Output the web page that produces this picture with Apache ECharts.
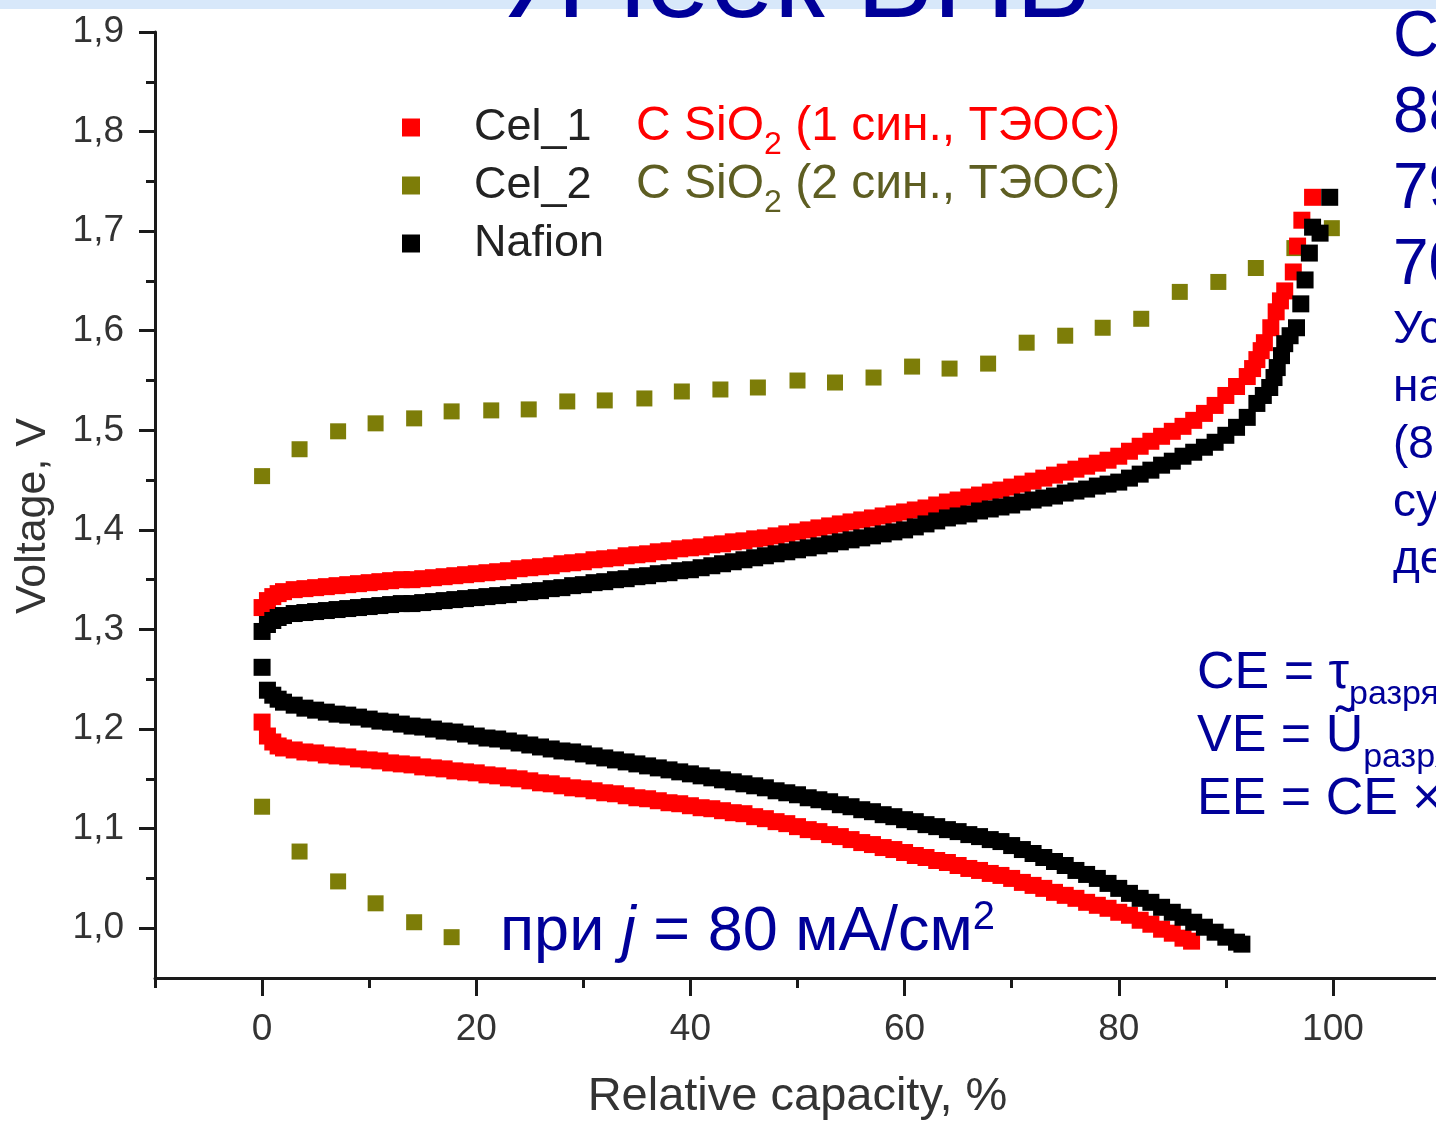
<!DOCTYPE html>
<html>
<head>
<meta charset="utf-8">
<script src="https://cdn.jsdelivr.net/npm/echarts@6/dist/echarts.min.js"></script>
<style>
html,body{margin:0;padding:0;background:#fff;}
#chart{width:1436px;height:1121px;}
</style>
</head>
<body>
<div id="chart"></div>
<script>
// ---------- DATA ----------
const xMajorTicks = [0, 20, 40, 60, 80, 100];
const xMinorTicks = [-10, 10, 30, 50, 70, 90, 110];
const yMajorTicks = [1.0, 1.1, 1.2, 1.3, 1.4, 1.5, 1.6, 1.7, 1.8, 1.9];
const yMinorTicks = [1.05, 1.15, 1.25, 1.35, 1.45, 1.55, 1.65, 1.75, 1.85];
const legendNames = ['Cel_1', 'Cel_2', 'Nafion'];

// Cel_1 (red) — charge branch
const cel1Charge = [[0,1.322],[0.5,1.329],[1,1.333],[1.5,1.336],[2,1.338],[3,1.340],[4,1.341],[5,1.342],[6,1.343],[7,1.344],[8,1.345],[9,1.346],[10,1.347],[11,1.348],[12,1.349],[13,1.350],[14,1.350],[15,1.351],[16,1.352],[17,1.353],[18,1.354],[19,1.355],[20,1.356],[21,1.357],[22,1.358],[23,1.359],[24,1.361],[25,1.362],[26,1.363],[27,1.364],[28,1.366],[29,1.367],[30,1.368],[31,1.370],[32,1.371],[33,1.372],[34,1.374],[35,1.375],[36,1.376],[37,1.378],[38,1.379],[39,1.381],[40,1.382],[41,1.383],[42,1.385],[43,1.386],[44,1.388],[45,1.389],[46,1.391],[47,1.392],[48,1.394],[49,1.396],[50,1.398],[51,1.400],[52,1.402],[53,1.404],[54,1.406],[55,1.408],[56,1.410],[57,1.412],[58,1.414],[59,1.416],[60,1.418],[61,1.420],[62,1.422],[63,1.425],[64,1.428],[65,1.430],[66,1.433],[67,1.435],[68,1.438],[69,1.440],[70,1.443],[71,1.446],[72,1.449],[73,1.452],[74,1.455],[75,1.458],[76,1.461],[77,1.464],[78,1.467],[79,1.470],[80,1.474],[81,1.479],[82,1.484],[83,1.489],[84,1.494],[85,1.499],[86,1.504],[87,1.510],[88,1.517],[89,1.525],[90,1.535],[91,1.544],[92,1.554],[92.5,1.562],[92.9,1.571],[93.3,1.580],[93.6,1.588],[94.2,1.603],[94.7,1.619],[95.1,1.630],[95.5,1.640],[96.3,1.659],[96.7,1.685],[97.1,1.711],[98.1,1.734]];
// Cel_1 (red) — discharge branch
const cel1Discharge = [[0,1.207],[0.5,1.193],[1,1.187],[1.5,1.183],[2,1.181],[3,1.179],[4,1.177],[5,1.176],[6,1.174],[7,1.173],[8,1.172],[9,1.170],[10,1.169],[11,1.168],[12,1.166],[13,1.165],[14,1.164],[15,1.162],[16,1.161],[17,1.160],[18,1.158],[19,1.157],[20,1.156],[21,1.154],[22,1.153],[23,1.151],[24,1.150],[25,1.148],[26,1.146],[27,1.145],[28,1.143],[29,1.141],[30,1.140],[31,1.138],[32,1.136],[33,1.135],[34,1.133],[35,1.131],[36,1.130],[37,1.128],[38,1.126],[39,1.125],[40,1.123],[41,1.121],[42,1.120],[43,1.118],[44,1.116],[45,1.115],[46,1.112],[47,1.110],[48,1.107],[49,1.105],[50,1.102],[51,1.099],[52,1.097],[53,1.094],[54,1.092],[55,1.089],[56,1.086],[57,1.084],[58,1.081],[59,1.079],[60,1.076],[61,1.073],[62,1.071],[63,1.068],[64,1.066],[65,1.063],[66,1.060],[67,1.058],[68,1.055],[69,1.053],[70,1.050],[71,1.046],[72,1.043],[73,1.040],[74,1.036],[75,1.033],[76,1.030],[77,1.026],[78,1.023],[79,1.020],[80,1.016],[81,1.013],[82,1.008],[83,1.004],[84,0.999],[85,0.995],[86,0.990],[86.8,0.987]];
// Cel_2 (olive) — charge branch
const cel2Charge = [[0,1.454],[3.5,1.481],[7.1,1.499],[10.6,1.507],[14.2,1.512],[17.7,1.519],[21.4,1.520],[24.9,1.521],[28.5,1.529],[32.0,1.530],[35.7,1.532],[39.2,1.539],[42.8,1.541],[46.3,1.543],[50.0,1.550],[53.5,1.548],[57.1,1.553],[60.7,1.564],[64.2,1.562],[67.8,1.567],[71.4,1.588],[75.0,1.595],[78.5,1.603],[82.1,1.612],[85.7,1.639],[89.3,1.649],[92.8,1.663],[96.4,1.683],[99.9,1.703]];
// Cel_2 (olive) — discharge branch
const cel2Discharge = [[0,1.122],[3.5,1.077],[7.1,1.047],[10.6,1.025],[14.2,1.006],[17.7,0.991]];
// Nafion (black) — charge branch
const nafionCharge = [[0,1.298],[0.5,1.305],[1,1.309],[1.5,1.312],[2,1.314],[3,1.316],[4,1.317],[5,1.318],[6,1.319],[7,1.320],[8,1.321],[9,1.322],[10,1.323],[11,1.324],[12,1.325],[13,1.326],[14,1.326],[15,1.327],[16,1.328],[17,1.329],[18,1.330],[19,1.331],[20,1.332],[21,1.333],[22,1.334],[23,1.335],[24,1.337],[25,1.338],[26,1.339],[27,1.341],[28,1.342],[29,1.344],[30,1.345],[31,1.347],[32,1.348],[33,1.350],[34,1.351],[35,1.353],[36,1.354],[37,1.356],[38,1.357],[39,1.359],[40,1.360],[41,1.362],[42,1.364],[43,1.366],[44,1.368],[45,1.370],[46,1.372],[47,1.374],[48,1.376],[49,1.378],[50,1.380],[51,1.382],[52,1.384],[53,1.386],[54,1.388],[55,1.390],[56,1.392],[57,1.394],[58,1.396],[59,1.398],[60,1.400],[61,1.403],[62,1.406],[63,1.409],[64,1.412],[65,1.414],[66,1.416],[67,1.419],[68,1.421],[69,1.423],[70,1.425],[71,1.428],[72,1.430],[73,1.432],[74,1.434],[75,1.437],[76,1.439],[77,1.441],[78,1.444],[79,1.446],[80,1.448],[81,1.452],[82,1.456],[83,1.460],[84,1.465],[85,1.469],[86,1.474],[87,1.478],[88,1.483],[89,1.488],[90,1.495],[91,1.503],[92,1.513],[92.9,1.527],[93.5,1.535],[94.1,1.543],[94.5,1.553],[94.8,1.563],[95.2,1.575],[95.5,1.587],[96.0,1.595],[96.6,1.603],[97.0,1.627],[97.4,1.651],[97.8,1.678],[98.1,1.704],[98.8,1.698],[99.7,1.734]];
// Nafion (black) — discharge branch
const nafionDischarge = [[0,1.262],[0.5,1.239],[1,1.234],[1.5,1.230],[2,1.227],[3,1.224],[4,1.221],[5,1.219],[6,1.217],[7,1.215],[8,1.214],[9,1.212],[10,1.210],[11,1.208],[12,1.207],[13,1.205],[14,1.203],[15,1.202],[16,1.200],[17,1.198],[18,1.197],[19,1.195],[20,1.193],[21,1.191],[22,1.190],[23,1.188],[24,1.186],[25,1.184],[26,1.182],[27,1.180],[28,1.178],[29,1.177],[30,1.175],[31,1.173],[32,1.171],[33,1.169],[34,1.167],[35,1.165],[36,1.163],[37,1.161],[38,1.159],[39,1.157],[40,1.155],[41,1.153],[42,1.151],[43,1.149],[44,1.147],[45,1.145],[46,1.143],[47,1.141],[48,1.138],[49,1.136],[50,1.134],[51,1.131],[52,1.129],[53,1.127],[54,1.124],[55,1.122],[56,1.119],[57,1.117],[58,1.114],[59,1.112],[60,1.109],[61,1.107],[62,1.104],[63,1.102],[64,1.099],[65,1.097],[66,1.094],[67,1.092],[68,1.089],[69,1.087],[70,1.083],[71,1.079],[72,1.075],[73,1.071],[74,1.067],[75,1.063],[76,1.058],[77,1.054],[78,1.050],[79,1.045],[80,1.040],[81,1.035],[82,1.030],[83,1.026],[84,1.021],[85,1.016],[86,1.011],[87,1.006],[88,1.001],[89,0.996],[90,0.991],[91,0.986],[91.5,0.984]];

// ---------- STYLE ----------
const RED = '#ff0000', OLIVE = '#7d7d08', BLACK = '#000000', NAVY = '#000099', AX = '#1a1a1a';
const FONT = 'Liberation Sans, Arial, sans-serif';

const chart = echarts.init(document.getElementById('chart'), null, {renderer: 'canvas'});

function sc(name, data, color, size, z) {
  return {
    type: 'scatter', name: name, data: data, symbol: 'rect', symbolSize: size,
    itemStyle: {color: color, opacity: 1}, z: z, silent: true, animation: false
  };
}

const option = {
  backgroundColor: '#ffffff',
  animation: false,
  textStyle: {fontFamily: FONT},
  grid: {left: 155, top: 32, width: 1285, height: 946, containLabel: false, outerBoundsMode: 'none'},
  legend: {
    data: legendNames, orient: 'vertical', left: 397, top: 100,
    icon: 'rect', itemWidth: 18, itemHeight: 18, itemGap: 13,
    textStyle: {fontSize: 45, color: '#222', fontFamily: FONT, lineHeight: 44, padding: [0, 0, 0, 49]},
    selectedMode: false
  },
  xAxis: [{
    type: 'value', min: -10, max: 110, position: 'bottom',
    axisLine: {show: true, onZero: false, lineStyle: {color: AX, width: 3}},
    axisTick: {show: true, customValues: xMajorTicks, length: 18, lineStyle: {color: AX, width: 3}},
    axisLabel: {show: true, customValues: xMajorTicks, fontSize: 37, color: '#333', margin: 33, fontFamily: FONT},
    splitLine: {show: false},
    name: 'Relative capacity, %', nameLocation: 'middle', nameGap: 96,
    nameTextStyle: {fontSize: 47, color: '#333', fontFamily: FONT}
  }, {
    type: 'value', min: -10, max: 110, position: 'bottom', offset: 0,
    axisLine: {show: false, onZero: false},
    axisTick: {show: true, customValues: xMinorTicks, length: 10, lineStyle: {color: AX, width: 3}},
    axisLabel: {show: false}, splitLine: {show: false}
  }],
  yAxis: [{
    type: 'value', min: 0.95, max: 1.9, position: 'left',
    axisLine: {show: true, onZero: false, lineStyle: {color: AX, width: 3}},
    axisTick: {show: true, customValues: yMajorTicks, length: 16, lineStyle: {color: AX, width: 3}},
    axisLabel: {show: true, customValues: yMajorTicks, fontSize: 37, color: '#333', margin: 31, fontFamily: FONT,
      formatter: v => v.toFixed(1).replace('.', ',')},
    splitLine: {show: false},
    name: 'Voltage, V', nameLocation: 'middle', nameGap: 100, nameRotate: 90,
    nameTextStyle: {fontSize: 43, color: '#333', fontFamily: FONT, padding: [0, 22, 0, 0]}
  }, {
    type: 'value', min: 0.95, max: 1.9, position: 'left', offset: 0,
    axisLine: {show: false, onZero: false},
    axisTick: {show: true, customValues: yMinorTicks, length: 9, lineStyle: {color: AX, width: 3}},
    axisLabel: {show: false}, splitLine: {show: false}
  }],
  series: [
    sc('Cel_2', cel2Charge, OLIVE, 16, 2),
    sc('Cel_2', cel2Discharge, OLIVE, 16, 2),
    sc('Cel_1', cel1Charge, RED, 17, 3),
    sc('Cel_1', cel1Discharge, RED, 17, 3),
    sc('Nafion', nafionCharge, BLACK, 17, 4),
    sc('Nafion', nafionDischarge, BLACK, 17, 4)
  ],
  graphic: [
    {type: 'rect', left: 0, top: 0, z: -10, shape: {width: 1436, height: 9}, style: {fill: '#d8e8fa'}},
    {type: 'text', left: 503, top: -72, z: 10, style: {text: 'Ячеек ВПБ', fontSize: 115, fill: NAVY, fontFamily: FONT}},
    // legend descriptions
    {type: 'text', left: 636, top: 103, z: 10, style: {
      text: '{a|C SiO}{s|2}{a| (1 син., ТЭОС)}', fill: RED,
      rich: {a: {fontSize: 48, fill: RED, fontFamily: FONT, lineHeight: 52, verticalAlign: 'bottom'},
             s: {fontSize: 32, fill: RED, fontFamily: FONT, lineHeight: 32, verticalAlign: 'bottom', padding: [0, 0, -10, 0]}}}},
    {type: 'text', left: 636, top: 161, z: 10, style: {
      text: '{a|C SiO}{s|2}{a| (2 син., ТЭОС)}', fill: '#5e5e22',
      rich: {a: {fontSize: 48, fill: '#5e5e22', fontFamily: FONT, lineHeight: 52, verticalAlign: 'bottom'},
             s: {fontSize: 32, fill: '#5e5e22', fontFamily: FONT, lineHeight: 32, verticalAlign: 'bottom', padding: [0, 0, -10, 0]}}}},
    // current density note
    {type: 'text', left: 500, top: 898, z: 10, style: {
      text: '{a|при }{i|j}{a| = 80 мА/см}{p|2}', fill: NAVY,
      rich: {a: {fontSize: 63, fill: NAVY, fontFamily: FONT, lineHeight: 66, verticalAlign: 'bottom'},
             i: {fontSize: 63, fill: NAVY, fontFamily: FONT, fontStyle: 'italic', lineHeight: 66, verticalAlign: 'bottom'},
             p: {fontSize: 40, fill: NAVY, fontFamily: FONT, lineHeight: 40, verticalAlign: 'top'}}}},
    // right column (cut by the page edge)
    {type: 'text', left: 1393, top: 0, z: 10, style: {text: 'С\n88\n79\n70', fontSize: 64, lineHeight: 76, fill: NAVY, fontFamily: FONT}},
    {type: 'text', left: 1393, top: 302, z: 10, style: {text: 'Ус\nна\n(8\nсу\nде', fontSize: 46, lineHeight: 57.5, fill: NAVY, fontFamily: FONT}},
    // efficiency formulas
    {type: 'text', left: 1197, top: 648, z: 10, style: {
      text: '{a|CE = τ}{s|разряда}\n{a|VE = Ũ}{s|разряда}\n{a|EE = CE × VE}', fill: NAVY,
      rich: {a: {fontSize: 52, fill: NAVY, fontFamily: FONT, lineHeight: 63, verticalAlign: 'bottom'},
             s: {fontSize: 34, fill: NAVY, fontFamily: FONT, lineHeight: 34, verticalAlign: 'bottom', padding: [0, 0, -12, 0]}}}}
  ]
};
chart.setOption(option);
</script>
</body>
</html>
